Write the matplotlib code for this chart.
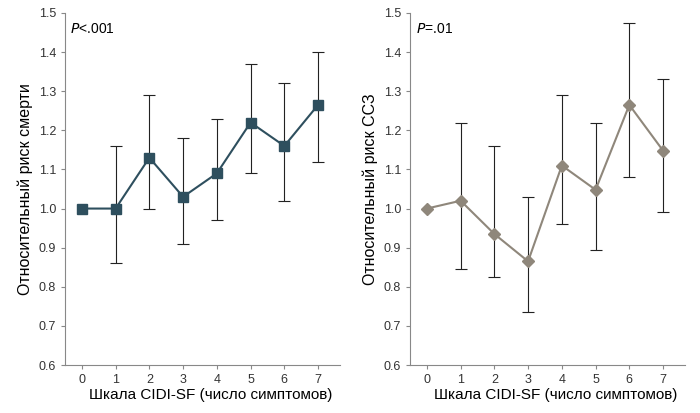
import matplotlib
matplotlib.use("Agg")
import matplotlib.pyplot as plt
import numpy as np

x = [0, 1, 2, 3, 4, 5, 6, 7]
death = [1.0, 1.0, 1.13, 1.03, 1.09, 1.22, 1.16, 1.265]
death_lo = [1.0, 0.86, 1.0, 0.91, 0.97, 1.09, 1.02, 1.12]
death_hi = [1.0, 1.16, 1.29, 1.18, 1.23, 1.37, 1.32, 1.40]
cvd = [1.0, 1.02, 0.935, 0.865, 1.11, 1.048, 1.265, 1.148]
cvd_lo = [1.0, 0.845, 0.825, 0.735, 0.96, 0.895, 1.08, 0.99]
cvd_hi = [1.0, 1.22, 1.16, 1.03, 1.29, 1.22, 1.475, 1.33]
yticks = [0.6, 0.7, 0.8, 0.9, 1.0, 1.1, 1.2, 1.3, 1.4, 1.5]

plt.rcParams['font.family'] = ['Liberation Sans', 'DejaVu Sans']
fig = plt.figure(figsize=(7, 4.13), dpi=100)
ax1 = fig.add_axes([65/700, 48/413, 275/700, 352/413])
ax2 = fig.add_axes([410/700, 48/413, 275/700, 352/413])

def draw(ax, y, lo, hi, color, marker, ms, ylabel, ptxt):
    y = np.array(y); lo = np.array(lo); hi = np.array(hi)
    err = np.vstack([y - lo, hi - y])
    ax.errorbar(x[1:], y[1:], yerr=err[:, 1:], fmt='none', ecolor='#222222',
                elinewidth=0.8, capsize=4, capthick=0.8, zorder=1)
    ax.plot(x, y, color=color, marker=marker, ms=ms, lw=1.5, zorder=2)
    ax.set_xlim(-0.5, 7.65)
    ax.set_ylim(0.6, 1.5)
    ax.set_xticks(x)
    ax.set_yticks(yticks)
    ax.set_yticklabels([f"{v:.1f}" for v in yticks])
    for s in ['top', 'right']:
        ax.spines[s].set_visible(False)
    for s in ['left', 'bottom']:
        ax.spines[s].set_color('#888888')
    ax.tick_params(colors='#333333', labelsize=9, length=3, color='#888888')
    ax.set_ylabel(ylabel, fontsize=11.5)
    ax.set_xlabel('Шкала CIDI-SF (число симптомов)', fontsize=11, labelpad=2)
    ax.xaxis.set_label_coords(0.53, -0.065)
    ax.text(0.02, 0.975, ptxt, transform=ax.transAxes, fontsize=10, va='top')

draw(ax1, death, death_lo, death_hi, '#2e4f5e', 's', 7,
     'Относительный риск смерти', r'$\it{P}$<.001')
draw(ax2, cvd, cvd_lo, cvd_hi, '#8f877b', 'D', 6,
     'Относительный риск ССЗ', r'$\it{P}$=.01')

fig.savefig('out.png', dpi=100)
